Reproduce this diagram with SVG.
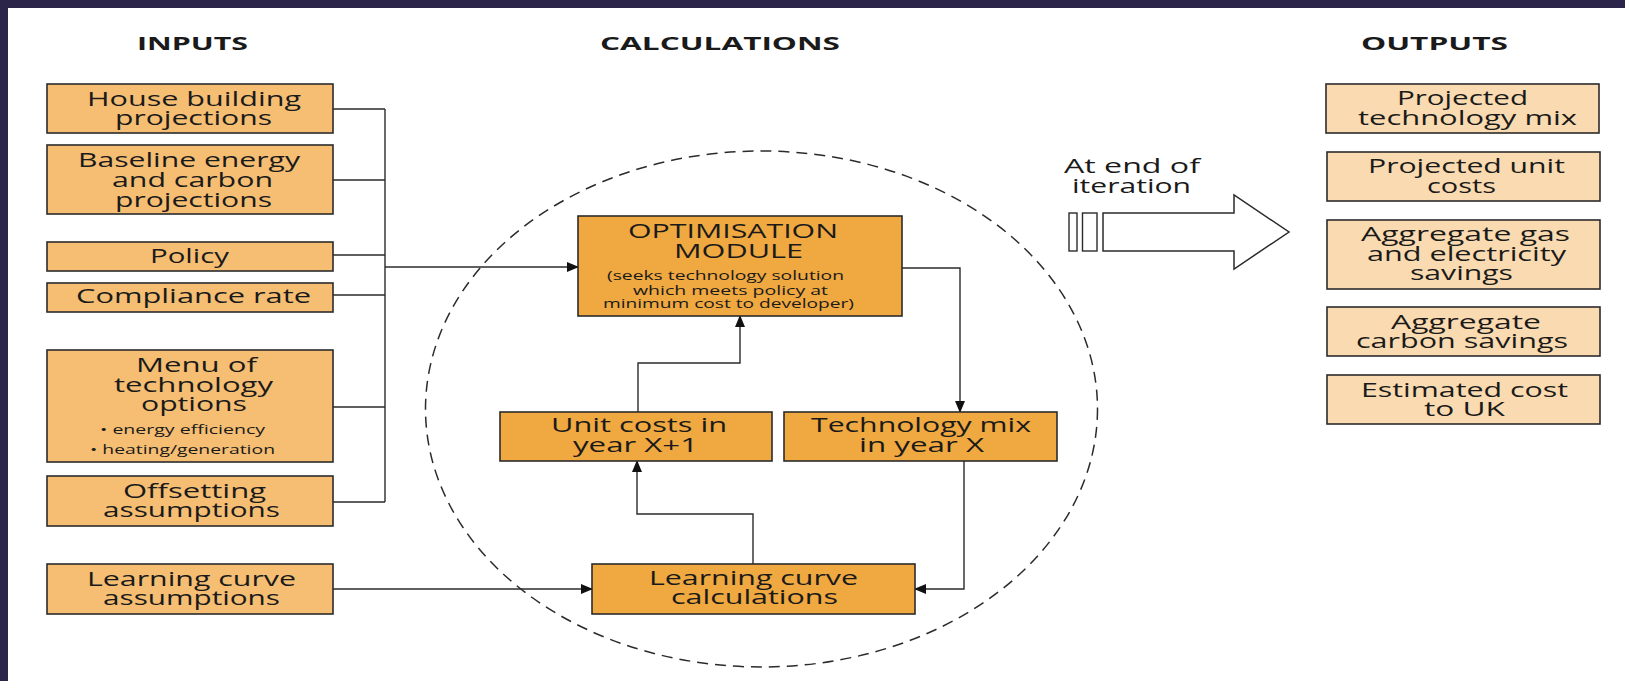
<svg xmlns="http://www.w3.org/2000/svg" width="1625" height="681" viewBox="0 0 1625 681">
<defs>
<style>
.in{fill:#F5BE73;stroke:#2b2b2b;stroke-width:1.6}
.calc{fill:#F0A840;stroke:#2b2b2b;stroke-width:1.6}
.out{fill:#FADAB0;stroke:#2b2b2b;stroke-width:1.6}
text{font-family:"Open Sans","DejaVu Sans","Liberation Sans",sans-serif;fill:#1a1a1a}
.t{font-size:19.5px}
.s{font-size:13.5px}
.h{font-size:18.5px;font-weight:bold}
.c{fill:none;stroke:#2b2b2b;stroke-width:1.4}
</style>
<marker id="ah" markerUnits="userSpaceOnUse" markerWidth="12" markerHeight="10" refX="11" refY="5" orient="auto">
<path d="M0,0 L12,5 L0,10 z" fill="#111"/>
</marker>
</defs>
<rect width="1625" height="681" fill="#fff"/>
<rect x="0" y="0" width="1625" height="8" fill="#2a2549"/>
<rect x="0" y="0" width="8" height="681" fill="#2a2549"/>

<g id="headers">
<text class="h" x="137" y="50" textLength="111" lengthAdjust="spacingAndGlyphs">INPUTS</text>
<text class="h" x="600" y="50" textLength="240" lengthAdjust="spacingAndGlyphs">CALCULATIONS</text>
<text class="h" x="1361" y="50" textLength="147" lengthAdjust="spacingAndGlyphs">OUTPUTS</text>
</g>

<g id="connectors">
<path class="c" d="M333 109 H385 M333 180 H385 M333 255 H385 M333 295 H385 M333 407 H385 M333 502 H385 M385 109 V502"/>
<path class="c" d="M385 267 H578" marker-end="url(#ah)"/>
<path class="c" d="M333 589 H592" marker-end="url(#ah)"/>
<path class="c" d="M902 268 H960 V412" marker-end="url(#ah)"/>
<path class="c" d="M638 412 V363 H740 V316" marker-end="url(#ah)"/>
<path class="c" d="M753 564 V514 H637 V461" marker-end="url(#ah)"/>
<path class="c" d="M964 461 V589 H915" marker-end="url(#ah)"/>
</g>

<ellipse id="loop" cx="761.5" cy="409" rx="336" ry="258" fill="none" stroke="#2b2b2b" stroke-width="1.5" stroke-dasharray="11 7"/>

<g id="in-house">
<rect class="in" x="47" y="84" width="286" height="49"/>
<text class="t" x="87" y="106" textLength="214" lengthAdjust="spacingAndGlyphs">House building</text>
<text class="t" x="115" y="125" textLength="157" lengthAdjust="spacingAndGlyphs">projections</text>
</g>
<g id="in-baseline">
<rect class="in" x="47" y="145" width="286" height="69"/>
<text class="t" x="78" y="167" textLength="222" lengthAdjust="spacingAndGlyphs">Baseline energy</text>
<text class="t" x="112" y="187" textLength="161" lengthAdjust="spacingAndGlyphs">and carbon</text>
<text class="t" x="115" y="207" textLength="157" lengthAdjust="spacingAndGlyphs">projections</text>
</g>
<g id="in-policy">
<rect class="in" x="47" y="242" width="286" height="29"/>
<text class="t" x="150" y="263" textLength="79" lengthAdjust="spacingAndGlyphs">Policy</text>
</g>
<g id="in-compliance">
<rect class="in" x="47" y="283" width="286" height="29"/>
<text class="t" x="76" y="303" textLength="235" lengthAdjust="spacingAndGlyphs">Compliance rate</text>
</g>
<g id="in-menu">
<rect class="in" x="47" y="350" width="286" height="112"/>
<text class="t" x="136" y="372" textLength="121" lengthAdjust="spacingAndGlyphs">Menu of</text>
<text class="t" x="114" y="392" textLength="159" lengthAdjust="spacingAndGlyphs">technology</text>
<text class="t" x="141" y="411" textLength="106" lengthAdjust="spacingAndGlyphs">options</text>
<text class="s" x="100" y="434" textLength="165" lengthAdjust="spacingAndGlyphs">• energy efficiency</text>
<text class="s" x="90" y="454" textLength="185" lengthAdjust="spacingAndGlyphs">• heating/generation</text>
</g>
<g id="in-offsetting">
<rect class="in" x="47" y="476" width="286" height="50"/>
<text class="t" x="123" y="498" textLength="143" lengthAdjust="spacingAndGlyphs">Offsetting</text>
<text class="t" x="103" y="517" textLength="177" lengthAdjust="spacingAndGlyphs">assumptions</text>
</g>
<g id="in-learning">
<rect class="in" x="47" y="564" width="286" height="50"/>
<text class="t" x="87" y="586" textLength="209" lengthAdjust="spacingAndGlyphs">Learning curve</text>
<text class="t" x="103" y="605" textLength="177" lengthAdjust="spacingAndGlyphs">assumptions</text>
</g>

<g id="optimisation">
<rect class="calc" x="578" y="216" width="324" height="100"/>
<text class="t" x="628" y="238" textLength="210" lengthAdjust="spacingAndGlyphs">OPTIMISATION</text>
<text class="t" x="674" y="258" textLength="129" lengthAdjust="spacingAndGlyphs">MODULE</text>
<text class="s" x="607" y="280" textLength="237" lengthAdjust="spacingAndGlyphs">(seeks technology solution</text>
<text class="s" x="633" y="295" textLength="195" lengthAdjust="spacingAndGlyphs">which meets policy at</text>
<text class="s" x="603" y="308" textLength="251" lengthAdjust="spacingAndGlyphs">minimum cost to developer)</text>
</g>
<g id="unit-costs">
<rect class="calc" x="500" y="412" width="272" height="49"/>
<text class="t" x="551" y="432" textLength="176" lengthAdjust="spacingAndGlyphs">Unit costs in</text>
<text class="t" x="573" y="452" textLength="125" lengthAdjust="spacingAndGlyphs">year X+1</text>
</g>
<g id="tech-mix">
<rect class="calc" x="784" y="412" width="273" height="49"/>
<text class="t" x="811" y="432" textLength="220" lengthAdjust="spacingAndGlyphs">Technology mix</text>
<text class="t" x="859" y="452" textLength="125" lengthAdjust="spacingAndGlyphs">in year X</text>
</g>
<g id="learning-calc">
<rect class="calc" x="592" y="564" width="323" height="50"/>
<text class="t" x="649" y="585" textLength="209" lengthAdjust="spacingAndGlyphs">Learning curve</text>
<text class="t" x="671" y="604" textLength="167" lengthAdjust="spacingAndGlyphs">calculations</text>
</g>

<g id="iteration-arrow">
<text class="t" x="1064" y="173" textLength="136" lengthAdjust="spacingAndGlyphs">At end of</text>
<text class="t" x="1072" y="193" textLength="119" lengthAdjust="spacingAndGlyphs">iteration</text>
<rect x="1069" y="213" width="8" height="38" fill="#fff" stroke="#2b2b2b" stroke-width="1.4"/>
<rect x="1082.5" y="213" width="14.5" height="38" fill="#fff" stroke="#2b2b2b" stroke-width="1.4"/>
<path d="M1103 213 H1234 V195 L1289 232 L1234 269 V251 H1103 Z" fill="#fff" stroke="#2b2b2b" stroke-width="1.5"/>
</g>

<g id="out-mix">
<rect class="out" x="1326" y="84" width="273" height="49"/>
<text class="t" x="1397" y="105" textLength="131" lengthAdjust="spacingAndGlyphs">Projected</text>
<text class="t" x="1358" y="125" textLength="219" lengthAdjust="spacingAndGlyphs">technology mix</text>
</g>
<g id="out-costs">
<rect class="out" x="1327" y="152" width="273" height="49"/>
<text class="t" x="1368" y="173" textLength="197" lengthAdjust="spacingAndGlyphs">Projected unit</text>
<text class="t" x="1427" y="193" textLength="69" lengthAdjust="spacingAndGlyphs">costs</text>
</g>
<g id="out-gas">
<rect class="out" x="1327" y="220" width="273" height="69"/>
<text class="t" x="1361" y="241" textLength="209" lengthAdjust="spacingAndGlyphs">Aggregate gas</text>
<text class="t" x="1367" y="261" textLength="199" lengthAdjust="spacingAndGlyphs">and electricity</text>
<text class="t" x="1410" y="280" textLength="103" lengthAdjust="spacingAndGlyphs">savings</text>
</g>
<g id="out-carbon">
<rect class="out" x="1327" y="307" width="273" height="49"/>
<text class="t" x="1391" y="329" textLength="150" lengthAdjust="spacingAndGlyphs">Aggregate</text>
<text class="t" x="1356" y="348" textLength="212" lengthAdjust="spacingAndGlyphs">carbon savings</text>
</g>
<g id="out-cost-uk">
<rect class="out" x="1327" y="375" width="273" height="49"/>
<text class="t" x="1361" y="397" textLength="207" lengthAdjust="spacingAndGlyphs">Estimated cost</text>
<text class="t" x="1424" y="416" textLength="81" lengthAdjust="spacingAndGlyphs">to UK</text>
</g>
</svg>
